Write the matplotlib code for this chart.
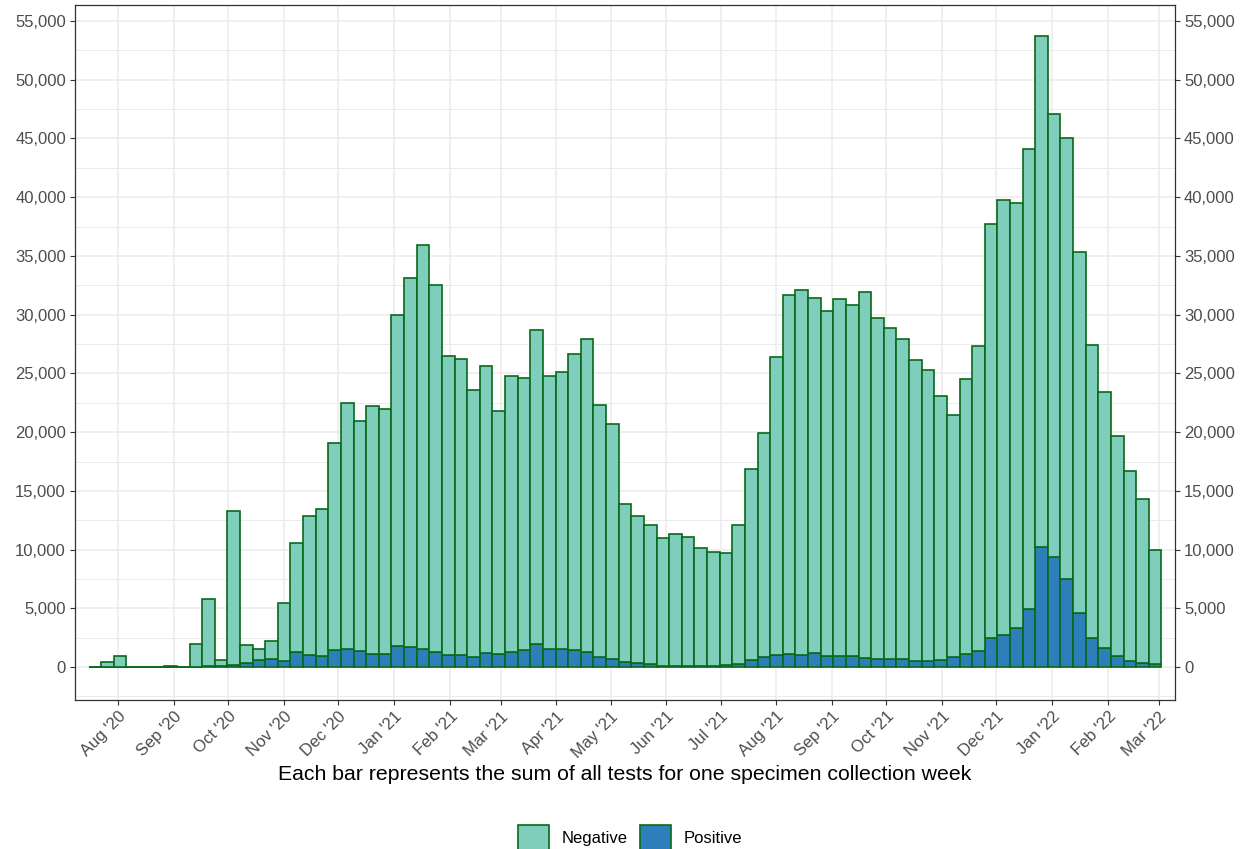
import numpy as np
import pandas as pd
import matplotlib
matplotlib.use('Agg')
import matplotlib.pyplot as plt
import matplotlib.dates as mdates
from matplotlib.ticker import MultipleLocator, FuncFormatter
from matplotlib.patches import Patch

plt.rcParams['font.family'] = ['Liberation Sans', 'DejaVu Sans']

# one bar per specimen collection week
weeks = pd.date_range('2020-07-19', periods=85, freq='7D')

total = [50, 400, 950, 0, 0, 0, 60, 0, 2000, 5800,
         600, 13300, 1850, 1530, 2200, 5450, 10600, 12900, 13500, 19100,
         22450, 20970, 22200, 22000, 29970, 33100, 35900, 32500, 26500, 26200,
         23600, 25600, 21800, 24800, 24600, 28700, 24750, 25100, 26650, 27900,
         22350, 20700, 13900, 12900, 12060, 10980, 11300, 11070, 10160, 9760,
         9700, 12090, 16900, 19900, 26400, 31700, 32070, 31400, 30300, 31300,
         30800, 31960, 29700, 28900, 27900, 26100, 25300, 23100, 21500, 24500,
         27300, 37700, 39800, 39500, 44100, 53700, 47100, 45000, 35350, 27400,
         23400, 19700, 16700, 14300, 9980]

positive = [0, 20, 30, 0, 0, 0, 0, 0, 50, 100,
            80, 200, 330, 600, 650, 480, 1250, 1050, 950, 1450,
            1560, 1380, 1140, 1100, 1790, 1700, 1530, 1280, 1050, 1020,
            880, 1160, 1080, 1280, 1420, 1960, 1530, 1530, 1450, 1280,
            890, 720, 400, 310, 230, 110, 90, 60, 60, 110,
            170, 280, 570, 820, 990, 1130, 1050, 1160, 960, 960,
            940, 790, 650, 650, 680, 550, 550, 630, 850, 1150,
            1360, 2510, 2760, 3340, 4950, 10260, 9400, 7540, 4630, 2480,
            1650, 970, 540, 360, 250]

negative = np.array(total) - np.array(positive)

month_ticks = pd.date_range('2020-08-01', '2022-03-01', freq='MS')

neg_col = '#7FCDBB'
pos_col = '#2C7FB8'
edge_col = '#08691A'

fig = plt.figure(figsize=(12.5, 8.49), dpi=100)
ax = fig.add_axes([0.06, 1 - 700/849, 0.88, 695/849])

ax.bar(weeks, positive, width=7, color=pos_col, edgecolor=edge_col, linewidth=1.2)
ax.bar(weeks, negative, width=7, bottom=positive, color=neg_col, edgecolor=edge_col, linewidth=1.2)

ax.set_xlim(pd.Timestamp('2020-07-08'), pd.Timestamp('2022-03-10'))
ax.set_ylim(-2800, 56360)

ax.set_xticks(month_ticks)
ax.xaxis.set_major_formatter(mdates.DateFormatter("%b '%y"))
plt.setp(ax.get_xticklabels(), rotation=45, ha='right', rotation_mode='anchor')

ax.yaxis.set_major_locator(MultipleLocator(5000))
ax.yaxis.set_minor_locator(MultipleLocator(2500))
ax.yaxis.set_major_formatter(FuncFormatter(lambda v, p: f'{int(v):,}'))

ax.tick_params(axis='both', which='major', labelsize=12, labelcolor='#4D4D4D',
               color='#333333', length=3.5, width=0.8, pad=3)
ax.tick_params(axis='y', which='major', right=True, labelright=True)
ax.tick_params(axis='y', which='minor', length=0)

ax.set_axisbelow(True)
ax.grid(which='major', color='#EBEBEB', linewidth=1.1)
ax.grid(which='minor', axis='y', color='#EBEBEB', linewidth=0.7)
for s in ax.spines.values():
    s.set_color('#333333')
    s.set_linewidth(0.9)

fig.text(0.5, 1 - 774/849, 'Each bar represents the sum of all tests for one specimen collection week',
         ha='center', va='center', fontsize=15.3, color='black')

handles = [Patch(facecolor=neg_col, edgecolor=edge_col, linewidth=1.2),
           Patch(facecolor=pos_col, edgecolor=edge_col, linewidth=1.2)]
fig.legend(handles, ['Negative', 'Positive'], loc='upper center',
           bbox_to_anchor=(0.504, 1 - 817/849), ncol=2, frameon=False, fontsize=12,
           handlelength=1.9, handleheight=1.9, borderpad=0, handletextpad=0.75,
           columnspacing=0.7)

fig.savefig('out.png', dpi=100)
